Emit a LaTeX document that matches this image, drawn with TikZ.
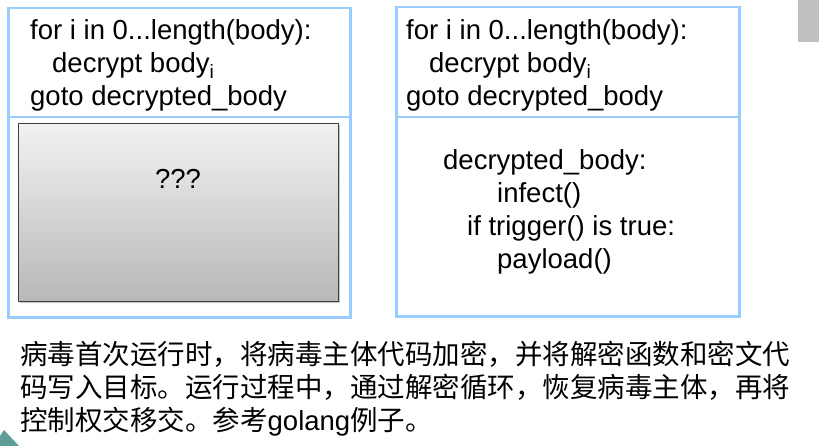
\documentclass[tikz,border=0pt]{standalone}
\usepackage{fontspec}
\setmainfont{Liberation Sans}
\newfontfamily\cjk{Noto Sans CJK SC}
\usetikzlibrary{shadows}
\definecolor{frameblue}{HTML}{99CCFF}
\definecolor{slidegray}{HTML}{C0C0C0}
\definecolor{slideteal}{HTML}{5F9E96}

\begin{document}
\begin{tikzpicture}[x=1pt,y=-1pt,
		code/.style={anchor=base west,inner sep=0pt,font=\fontsize{27.5}{33}\selectfont},
		frame/.style={draw=frameblue,line width=2.5pt,anchor=north west,inner sep=0pt,minimum height=309pt},
		divider/.style={draw=frameblue,line width=2pt},
		hidden/.style={draw=black!75,line width=0.8pt,anchor=north west,inner sep=0pt,
			minimum width=320pt,minimum height=178pt,top color=black!5,bottom color=black!28,
			drop shadow={shadow xshift=2pt,shadow yshift=-2pt,opacity=0.45}}]
		\useasboundingbox (0,0) rectangle (819,446);
		\fill[white] (0,0) rectangle (819,446);
		\fill[slidegray] (798,0) rectangle (819,42); % Rest der Folie
		\fill[slideteal] (0,436) -- (4,430) -- (19,446) -- (0,446) -- cycle;
		
		\node[frame,minimum width=342pt] (lframe) at (7,7) {}; % Verschluesselt
		\node[frame,minimum width=343pt] (rframe) at (395,6) {}; % Entschluesselt
		\coordinate (cut) at (0,117);
		\draw[divider] (lframe.west |- cut) -- (lframe.east |- cut);
		\draw[divider] (rframe.west |- cut) -- (rframe.east |- cut);
		
		\node[code] (lloop) at (30,40) {for i in 0...length(body):};
		\node[code] (lstep) at (52,73) {decrypt body\textsubscript{i}};
		\node[code] (ljump) at (30,106) {goto decrypted\_body};
		\node[hidden] (lbody) at (18,123) {};
		\node[code,anchor=base] (lmark) at (178,189) {???};
		
		\node[code] (rloop) at (406,40) {for i in 0...length(body):};
		\node[code] (rstep) at (429,73) {decrypt body\textsubscript{i}};
		\node[code] (rjump) at (406,106) {goto decrypted\_body};
		\node[code] (rlabel) at (443,170) {decrypted\_body:};
		\node[code] (rinfect) at (497,203) {infect()};
		\node[code] (rtrigger) at (467,236) {if trigger() is true:};
		\node[code] (rpayload) at (497,269) {payload()};
		
		\node[code] (note1) at (20,364) {\cjk 病毒首次运行时，将病毒主体代码加密，并将解密函数和密文代};
		\node[code] (note2) at (20,397) {\cjk 码写入目标。运行过程中，通过解密循环，恢复病毒主体，再将};
		\node[code] (note3) at (20,430) {{\cjk 控制权交移交。参考}golang{\cjk 例子。}};
	\end{tikzpicture}
\end{document}
